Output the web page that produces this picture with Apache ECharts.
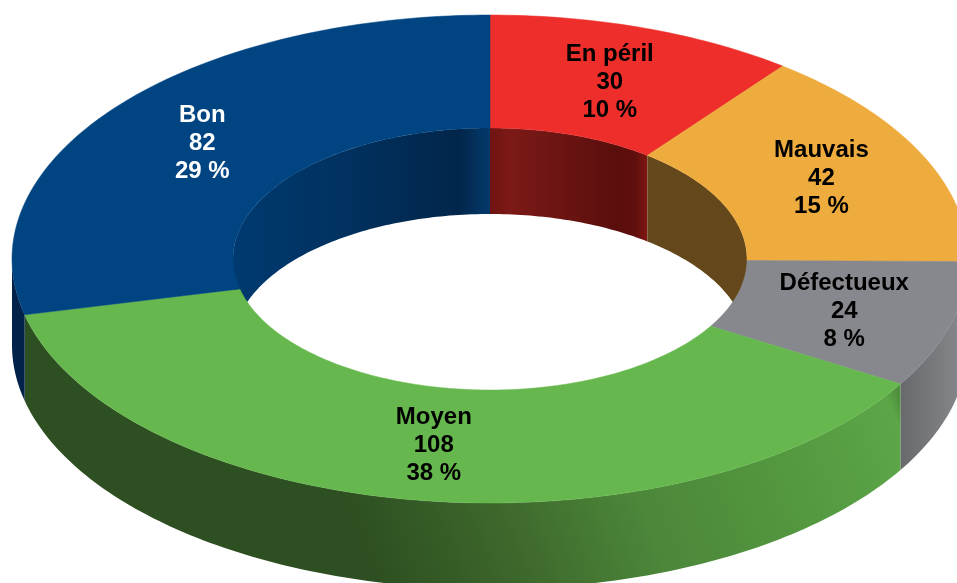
<!DOCTYPE html>
<html>
<head>
<meta charset="utf-8">
<style>
  html, body { margin: 0; padding: 0; background: #fff; }
  #chart { width: 957px; height: 583px; }
</style>
<script src="https://cdn.jsdelivr.net/npm/echarts@6/dist/echarts.min.js"></script>
</head>
<body>
<div id="chart"></div>
<script>
var categories = ['En péril', 'Mauvais', 'Défectueux', 'Moyen', 'Bon']
var values = [30, 42, 24, 108, 82]
var percents = ['10 %', '15 %', '8 %', '38 %', '29 %']

// couleurs des faces
var topColors = ['#ed2e2a', '#eeab3e', '#87888d', '#66b84e', '#004481']
var labelColors = ['#000', '#000', '#000', '#000', '#fff']
var innerStops = [
  [[0, '#6f1412'], [0.12, '#7c1a17'], [0.8, '#5a0f0d'], [0.92, '#5f0f0d'], [1, '#7f1613']],
  [[0, '#64471a'], [1, '#64471a']],
  [[0, '#4f4f52'], [1, '#4f4f52']],
  [[0, '#2e4f22'], [1, '#2e4f22']],
  [[0, '#003a70'], [0.45, '#01315f'], [0.88, '#02264a'], [1, '#043a6c']]
]
var outerStops = [
  [[0, '#8d1b19'], [1, '#8d1b19']],
  [[0, '#8f6a28'], [1, '#8f6a28']],
  [[0, '#68696d'], [0.45, '#77787c'], [1, '#8a8b8f']],
  [[0, '#2e4f21'], [0.12, '#345a26'], [0.28, '#3f6b2d'], [0.5, '#4c873a'], [0.75, '#53973f'], [0.98, '#5ca648'], [1, '#4f8f3d']],
  [[0, '#02224a'], [1, '#02224a']]
]
// direction du dégradé de la paroi extérieure (fractions de la boîte)
var outerDirs = [
  [0, 0, 1, 0],
  [0, 0, 1, 0],
  [0, 0, 1, 0],
  [0.406, 1.036, 1, 0.31],
  [0, 0, 1, 0]
]
var labelNudgeX = [1, 1, 1, 0, 0]

// géométrie de l'anneau
var cx = 490
var cy = 259
var rxOut = 478
var ryOut = 244
var rxIn = 257
var ryIn = 131
var depth = 86
var rxLabel = 367
var ryLabel = 188
var lineHeight = 28

var total = values.reduce(function (a, b) { return a + b }, 0)

function startAngle (idx) {
  var sum = 0
  for (var i = 0; i < idx; i++) sum += values[i]
  return sum / total * 360
}

// angle en degrés, 0 en haut, sens horaire
function arc (a0, a1, rx, ry, dy) {
  var pts = []
  var n = Math.max(2, Math.ceil(Math.abs(a1 - a0)))
  for (var i = 0; i <= n; i++) {
    var a = (a0 + (a1 - a0) * i / n) * Math.PI / 180
    pts.push([cx + rx * Math.sin(a), cy - ry * Math.cos(a) + dy])
  }
  return pts
}

function gradient (stops, dir) {
  dir = dir || [0, 0, 1, 0]
  return new echarts.graphic.LinearGradient(dir[0], dir[1], dir[2], dir[3], stops.map(function (s) {
    return { offset: s[0], color: s[1] }
  }))
}

function wall (a0, a1, rx, ry, stops, dir) {
  if (a1 <= a0) return { type: 'group', children: [] }
  return {
    type: 'polygon',
    shape: { points: arc(a0, a1, rx, ry, 0).concat(arc(a0, a1, rx, ry, depth).reverse()) },
    style: { fill: gradient(stops, dir) }
  }
}

// paroi intérieure : seule la moitié arrière est visible
function renderInner (params) {
  var i = params.dataIndex
  var a0 = startAngle(i)
  var a1 = startAngle(i + 1)
  var front = wall(a0, Math.min(a1, 90), rxIn, ryIn, innerStops[i])
  var back = wall(Math.max(a0, 270), a1, rxIn, ryIn, innerStops[i])
  return { type: 'group', children: [front, back] }
}

// paroi extérieure : seule la moitié avant est visible
function renderOuter (params) {
  var i = params.dataIndex
  var a0 = Math.max(startAngle(i), 90)
  var a1 = Math.min(startAngle(i + 1), 270)
  return wall(a0, a1, rxOut, ryOut, outerStops[i], outerDirs[i])
}

function renderTop (params, api) {
  var i = params.dataIndex
  var a0 = startAngle(i)
  var a1 = startAngle(i + 1)
  var mid = (a0 + a1) / 2 * Math.PI / 180
  var x = cx + rxLabel * Math.sin(mid) + labelNudgeX[i]
  var y = cy - ryLabel * Math.cos(mid) + 1
  return {
    type: 'group',
    children: [
      {
        type: 'polygon',
        shape: { points: arc(a0, a1, rxOut, ryOut, 0).concat(arc(a0, a1, rxIn, ryIn, 0).reverse()) },
        style: { fill: topColors[i], stroke: topColors[i], lineWidth: 0.5 }
      },
      {
        type: 'text',
        z2: 10,
        style: {
          x: x,
          y: y,
          text: categories[i] + '\n' + api.value(0) + '\n' + percents[i],
          fill: labelColors[i],
          font: 'bold 24px "Liberation Sans", Arial, sans-serif',
          lineHeight: lineHeight,
          align: 'center',
          verticalAlign: 'middle'
        }
      }
    ]
  }
}

var chart = echarts.init(document.getElementById('chart'))
chart.setOption({
  animation: false,
  backgroundColor: '#fff',
  series: [
    { type: 'custom', coordinateSystem: 'none', data: values, renderItem: renderInner, z: 1, silent: true },
    { type: 'custom', coordinateSystem: 'none', data: values, renderItem: renderOuter, z: 2, silent: true },
    { type: 'custom', coordinateSystem: 'none', data: values, renderItem: renderTop, z: 3, silent: true }
  ]
})
</script>
</body>
</html>
